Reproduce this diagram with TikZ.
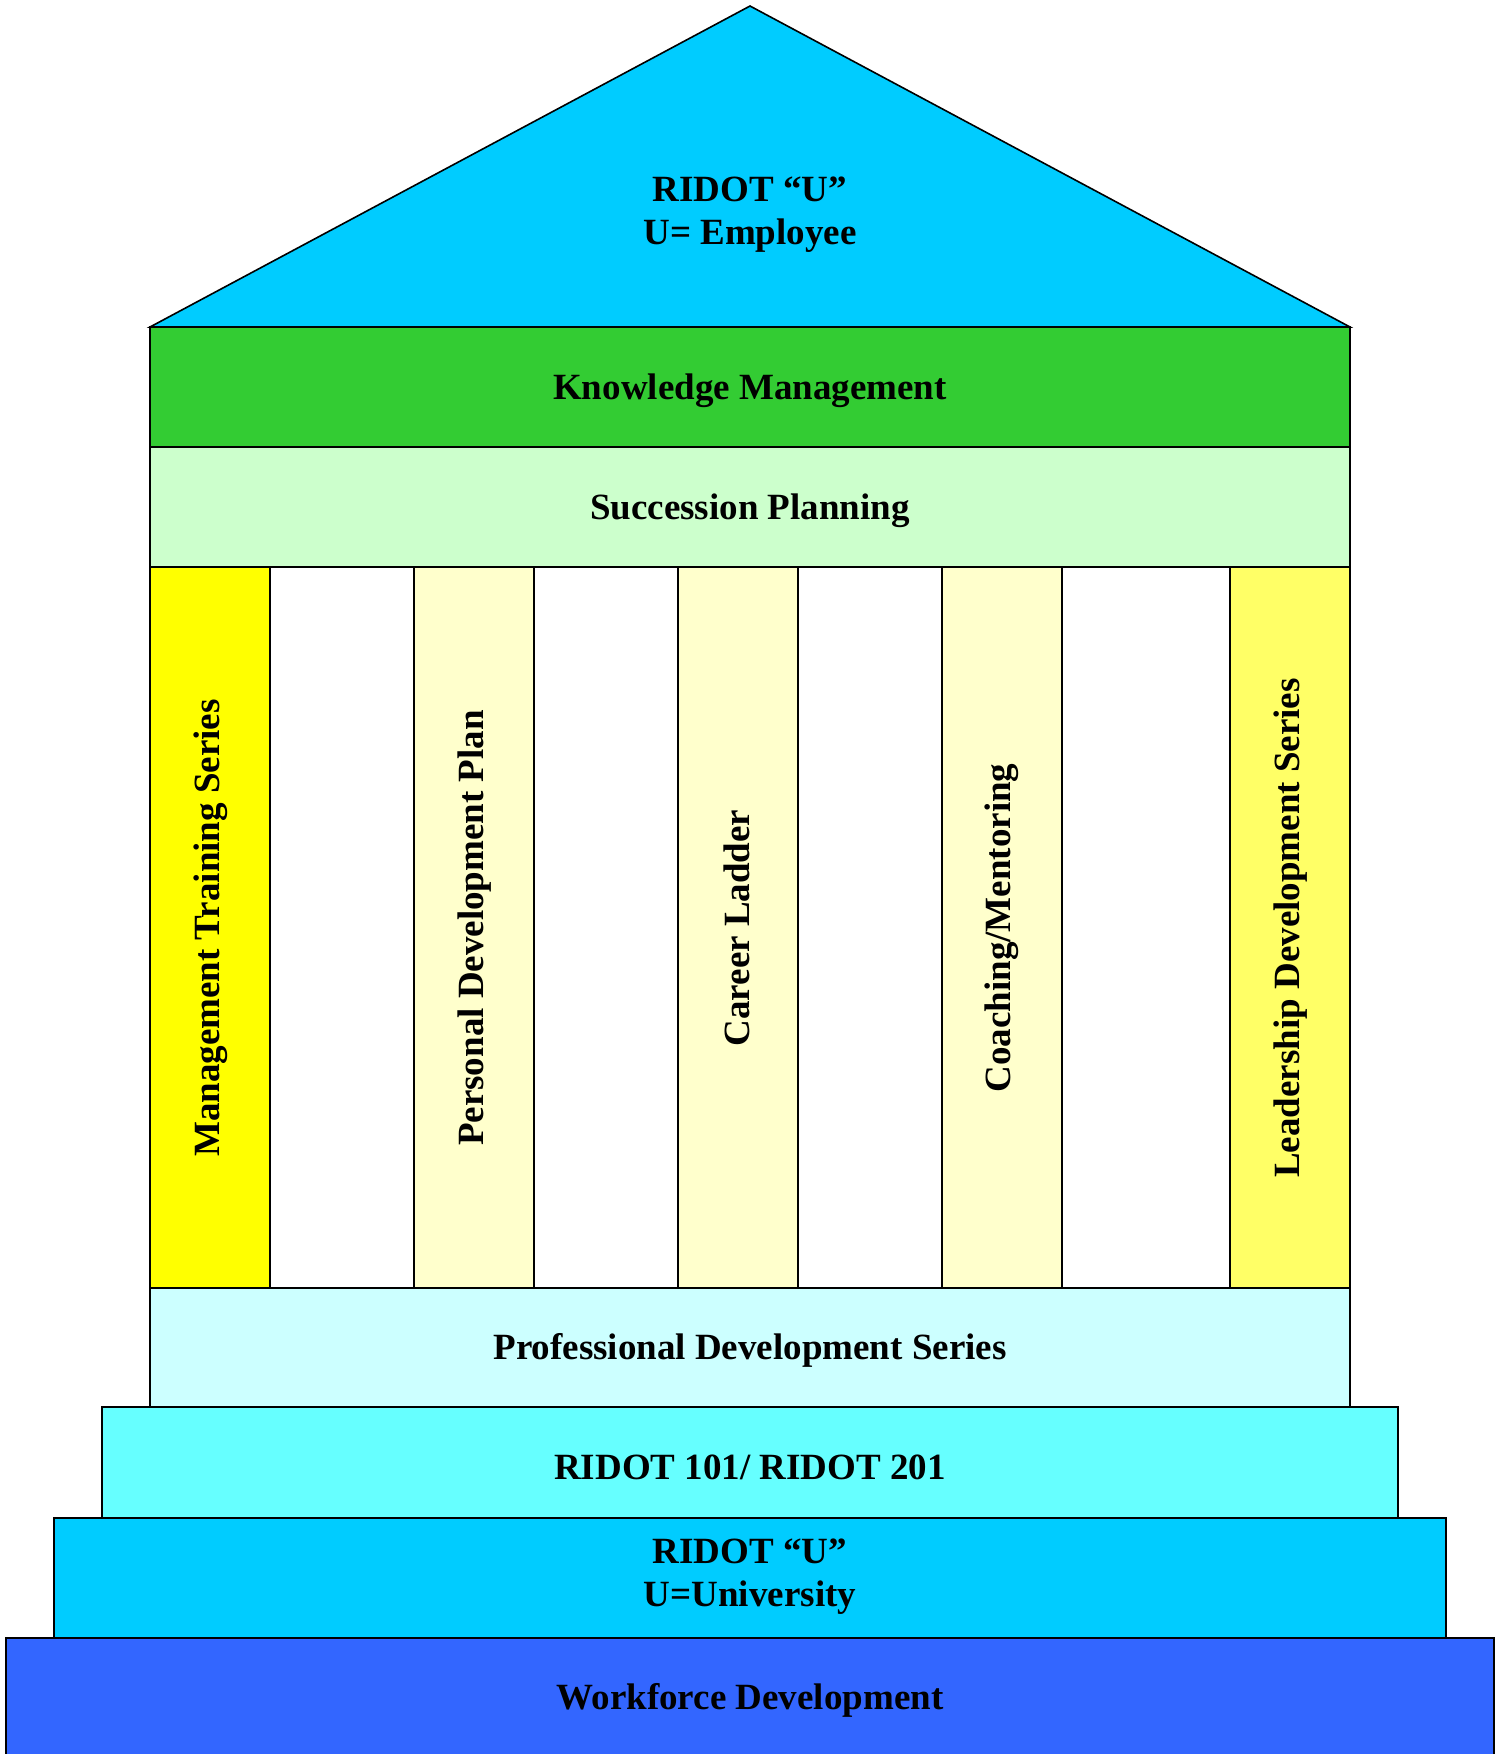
\documentclass[tikz,border=0pt]{standalone}
\usepackage{fontspec}
\setmainfont{Liberation Serif}
\definecolor{roofblue}{HTML}{00CCFF}
\definecolor{kmgreen}{HTML}{33CC33}
\definecolor{spgreen}{HTML}{CCFFCC}
\definecolor{pyellow}{HTML}{FFFF00}
\definecolor{pcream}{HTML}{FFFFCC}
\definecolor{plemon}{HTML}{FFFF66}
\definecolor{pdscyan}{HTML}{CCFFFF}
\definecolor{rcyan}{HTML}{66FFFF}
\definecolor{wdblue}{HTML}{3366FF}
\begin{document}
\begin{tikzpicture}[x=1pt,y=-1pt,
  part/.style={draw=black,line width=1.6pt,line join=miter},
  lbl/.style={font=\fontsize{37}{43}\selectfont\bfseries,align=center,inner sep=0pt},
  vlbl/.style={lbl,rotate=90},
]
\useasboundingbox (0,0) rectangle (1506,1754);

% roof
\filldraw[part,fill=roofblue] (150,327) -- (750,6) -- (1350,327) -- cycle;
\node[lbl] (roof) at (750,215) {RIDOT “U”\\U= Employee};

% beams
\filldraw[part,fill=kmgreen] (150,327) rectangle (1350,447);
\node[lbl] (km) at (750,391) {Knowledge Management};
\filldraw[part,fill=spgreen] (150,447) rectangle (1350,567);
\node[lbl] (sp) at (750,511) {Succession Planning};

% pillars
\filldraw[part,fill=pyellow] (150,567) rectangle (270,1288);
\node[vlbl] (p1) at (211,928) {Management Training Series};
\filldraw[part,fill=pcream] (414,567) rectangle (534,1288);
\node[vlbl] (p2) at (475,928) {Personal Development Plan};
\filldraw[part,fill=pcream] (678,567) rectangle (798,1288);
\node[vlbl] (p3) at (737,928) {Career Ladder};
\filldraw[part,fill=pcream] (942,567) rectangle (1062,1288);
\node[vlbl] (p4) at (1002,928) {Coaching/Mentoring};
\filldraw[part,fill=plemon] (1230,567) rectangle (1350,1288);
\node[vlbl] (p5) at (1291,928) {Leadership Development Series};

% steps
\filldraw[part,fill=pdscyan] (150,1288) rectangle (1350,1407);
\node[lbl] (pds) at (750,1350) {Professional Development Series};
\filldraw[part,fill=rcyan] (102,1407) rectangle (1398,1518);
\node[lbl] (r101) at (750,1467) {RIDOT 101/ RIDOT 201};
\filldraw[part,fill=roofblue] (54,1518) rectangle (1446,1638);
\node[lbl] (univ) at (750,1577) {RIDOT “U”\\U=University};
\filldraw[part,fill=wdblue] (6,1638) rectangle (1494,1760);
\node[lbl] (wd) at (750,1700) {Workforce Development};
\end{tikzpicture}
\end{document}
